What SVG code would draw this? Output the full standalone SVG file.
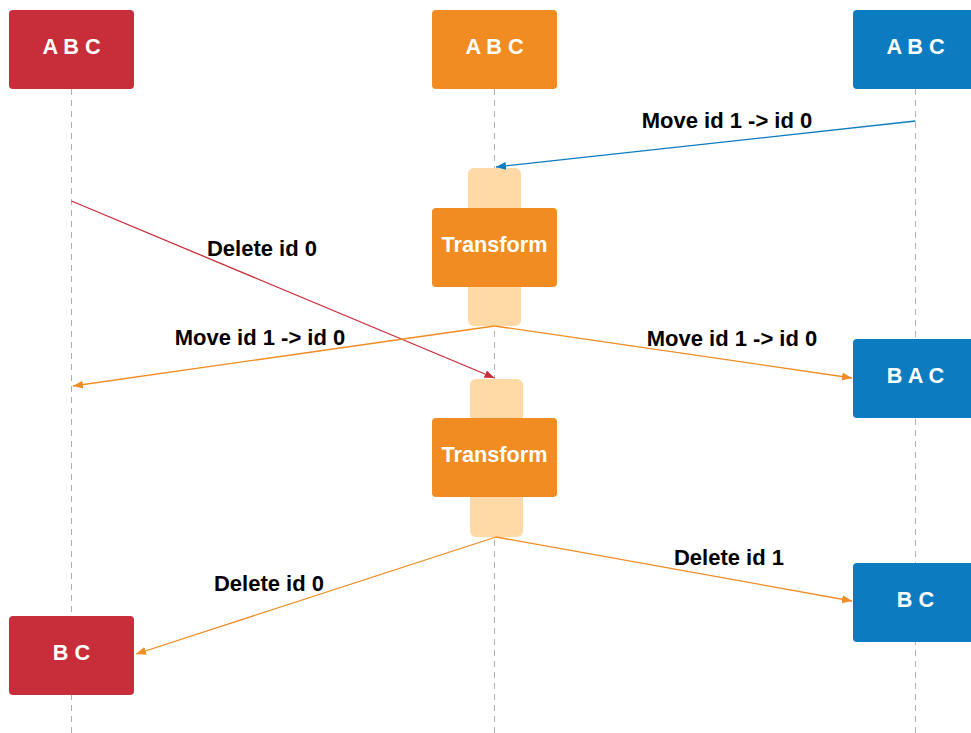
<svg xmlns="http://www.w3.org/2000/svg" width="971" height="733" viewBox="0 0 971 733">
<style>
.life{stroke:#b0b0b0;stroke-width:1;stroke-dasharray:6,5;fill:none}
.red{fill:#C82D3A}
.org{fill:#F08C22}
.blu{fill:#0C7BBF}
.act{fill:#FFDAA6}
.bt{font-family:"Liberation Sans",Arial,sans-serif;font-weight:bold;font-size:21.7px;fill:#ffffff;text-anchor:middle}
.lbl{font-family:"Liberation Sans",Arial,sans-serif;font-weight:bold;font-size:22px;fill:#000000;text-anchor:middle}
.c{fill:none;stroke-width:1.3}
</style>
<defs>
<marker id="mb" viewBox="0 0 10 10" refX="10" refY="5" markerWidth="10" markerHeight="10" markerUnits="userSpaceOnUse" orient="auto"><path d="M0,1 L10,5 L0,9 Z" fill="#0C7BBF"/></marker>
<marker id="mr" viewBox="0 0 10 10" refX="10" refY="5" markerWidth="10" markerHeight="10" markerUnits="userSpaceOnUse" orient="auto"><path d="M0,1 L10,5 L0,9 Z" fill="#C82D3A"/></marker>
<marker id="mo" viewBox="0 0 10 10" refX="10" refY="5" markerWidth="10" markerHeight="10" markerUnits="userSpaceOnUse" orient="auto"><path d="M0,1 L10,5 L0,9 Z" fill="#F08C22"/></marker>
</defs>
<g id="lifelines">
<line class="life" x1="71.5" y1="89" x2="71.5" y2="733"/>
<line class="life" x1="494.5" y1="89" x2="494.5" y2="733"/>
<line class="life" x1="915.5" y1="89" x2="915.5" y2="733"/>
</g>
<g id="act1"><rect class="act" x="468" y="168" width="53" height="158" rx="6"/></g>
<g id="act2"><rect class="act" x="470" y="379" width="53" height="158" rx="6"/></g>
<g id="left-abc"><rect class="red" x="9" y="10" width="125" height="79" rx="4"/><text class="bt" x="71.5" y="54">A B C</text></g>
<g id="mid-abc"><rect class="org" x="432" y="10" width="125" height="79" rx="4"/><text class="bt" x="494.5" y="54">A B C</text></g>
<g id="right-abc"><rect class="blu" x="853" y="10" width="125" height="79" rx="4"/><text class="bt" x="915.5" y="54">A B C</text></g>
<g id="transform1"><rect class="org" x="432" y="208" width="125" height="79" rx="4"/><text class="bt" x="494.5" y="252">Transform</text></g>
<g id="transform2"><rect class="org" x="432" y="418" width="125" height="79" rx="4"/><text class="bt" x="494.5" y="462">Transform</text></g>
<g id="right-bac"><rect class="blu" x="853" y="339" width="125" height="79" rx="4"/><text class="bt" x="915.5" y="383">B A C</text></g>
<g id="right-bc"><rect class="blu" x="853" y="563" width="125" height="79" rx="4"/><text class="bt" x="915.5" y="607">B C</text></g>
<g id="left-bc"><rect class="red" x="9" y="616" width="125" height="79" rx="4"/><text class="bt" x="71.5" y="660">B C</text></g>
<g id="connectors">
<line class="c" stroke="#0C7BBF" x1="915.5" y1="121" x2="496" y2="167" marker-end="url(#mb)"/>
<line class="c" stroke="#C82D3A" x1="71.5" y1="201" x2="494.5" y2="378" marker-end="url(#mr)"/>
<line class="c" stroke="#F08C22" x1="494.5" y1="326" x2="73" y2="386" marker-end="url(#mo)"/>
<line class="c" stroke="#F08C22" x1="494.5" y1="326" x2="852" y2="378" marker-end="url(#mo)"/>
<line class="c" stroke="#F08C22" x1="496" y1="537" x2="136" y2="654" marker-end="url(#mo)"/>
<line class="c" stroke="#F08C22" x1="496" y1="537" x2="852" y2="601" marker-end="url(#mo)"/>
<text class="lbl" x="727" y="128">Move id 1 -&gt; id 0</text>
<text class="lbl" x="262" y="256">Delete id 0</text>
<text class="lbl" x="260" y="345">Move id 1 -&gt; id 0</text>
<text class="lbl" x="732" y="346">Move id 1 -&gt; id 0</text>
<text class="lbl" x="269" y="591">Delete id 0</text>
<text class="lbl" x="729" y="565">Delete id 1</text>
</g>
</svg>
